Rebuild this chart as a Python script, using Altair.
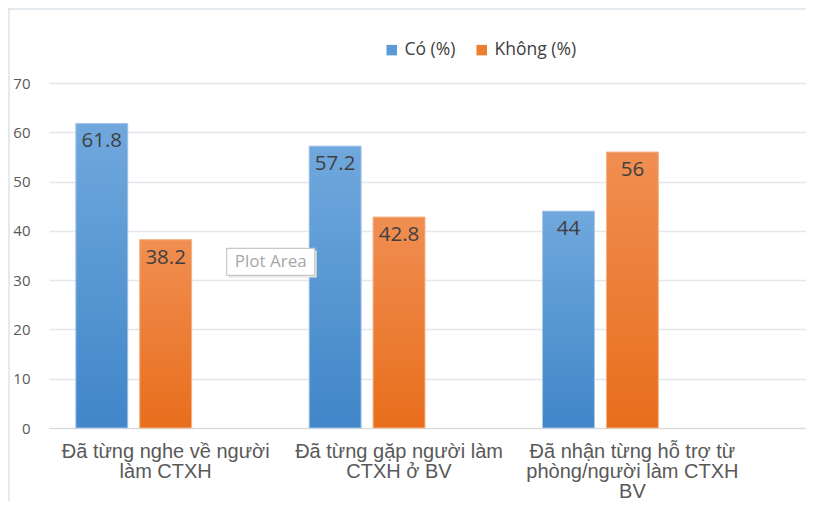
import altair as alt
import pandas as pd

categories = [
    "Đã từng nghe về người|làm CTXH",
    "Đã từng gặp người làm|CTXH ở BV",
    "Đã nhận từng hỗ trợ từ|phòng/người làm CTXH|BV",
]
series = ["Có (%)", "Không (%)"]
co_values = [61.8, 57.2, 44]
khong_values = [38.2, 42.8, 56]
y_ticks = [0, 10, 20, 30, 40, 50, 60, 70]

rows = []
for c, v in zip(categories, co_values):
    rows.append({"cat": c, "series": series[0], "value": v})
for c, v in zip(categories, khong_values):
    rows.append({"cat": c, "series": series[1], "value": v})
df = pd.DataFrame(rows)

offset_domain = series + ["_"]

x_scale = alt.Scale(domain=categories, paddingInner=0, paddingOuter=0.122, align=0)
x_enc = alt.X(
    "cat:N",
    sort=categories,
    scale=x_scale,
    axis=alt.Axis(
        title=None,
        labelAngle=0,
        labelExpr="split(datum.label, '|')",
        labelFont="Liberation Sans",
        labelFontSize=20,
        labelColor="#595959",
        labelLineHeight=20,
        labelPadding=23,
        labelLimit=0,
        ticks=False,
        domain=True,
        domainColor="#d9d9d9",
        labelBaseline="middle",
    ),
)
xoff = alt.XOffset(
    "series:N",
    scale=alt.Scale(domain=offset_domain, paddingInner=0.1875, paddingOuter=0.42),
)
y_enc = alt.Y(
    "value:Q",
    scale=alt.Scale(domain=[0, 70], nice=False),
    axis=alt.Axis(
        title=None,
        values=y_ticks,
        labelFont="Open Sans",
        labelFontSize=15,
        labelColor="#595959",
        labelPadding=19,
        ticks=False,
        domain=False,
        grid=True,
        gridColor="#e3e6ec",
        gridWidth=1.3,
    ),
)

base = alt.Chart(df)

legend_bars = base.mark_bar().encode(
    x=x_enc,
    xOffset=xoff,
    y=y_enc,
    color=alt.Color(
        "series:N",
        scale=alt.Scale(domain=series, range=["#5b9bd5", "#ed7d31"]),
        legend=alt.Legend(
            title=None,
            orient="none",
            legendX=334,
            legendY=-42,
            direction="horizontal",
            symbolType="square",
            symbolSize=110,
            symbolStrokeWidth=0,
            labelFont="Open Sans",
            labelFontSize=17.5,
            labelColor="#404040",
            columnPadding=17,
            labelOffset=4,
        ),
    ),
)

def grad(top, bottom):
    return alt.Gradient(
        gradient="linear",
        stops=[alt.GradientStop(offset=0, color=top), alt.GradientStop(offset=1, color=bottom)],
        x1=0, x2=0, y1=0, y2=1,
    )

blue_bars = base.transform_filter(alt.datum.series == series[0]).mark_bar(
    color=grad("#70a8dd", "#4086c8"), stroke="#a9c9ea", strokeWidth=1
).encode(x=x_enc, xOffset=xoff, y=y_enc)

orange_bars = base.transform_filter(alt.datum.series == series[1]).mark_bar(
    color=grad("#f08e52", "#e86e1c"), stroke="#f5b68a", strokeWidth=1
).encode(x=x_enc, xOffset=xoff, y=y_enc)

labels = base.mark_text(
    baseline="top", dy=8, font="Open Sans", fontSize=20.5, color="#404040"
).encode(x=x_enc, xOffset=xoff, y=y_enc, text=alt.Text("value:Q"))

# "Plot Area" hover tag seen in the source screenshot
annot = pd.DataFrame({"cat": [categories[0]], "value": [33.7], "txt": ["Plot Area"]})
x_plain = alt.X("cat:N", sort=categories, scale=x_scale)
annot_shadow = alt.Chart(annot).mark_rect(
    fill="#e6e6e6", width=88, height=27, xOffset=107, yOffset=2
).encode(x=x_plain, y=y_enc)
annot_box = alt.Chart(annot).mark_rect(
    fill="white", stroke="#c8c8c8", strokeWidth=1.2, width=88, height=27, xOffset=105
).encode(x=x_plain, y=y_enc)
annot_text = alt.Chart(annot).mark_text(
    font="Open Sans", fontSize=17, color="#a6a6a6", xOffset=105
).encode(x=x_plain, y=y_enc, text="txt:N")

# light chart-area frame (top and left edges)
frame_top = alt.Chart(annot).mark_rule(color="#dde3ea", strokeWidth=1.5).encode(
    x=alt.value(-41), x2=alt.value(770), y=alt.value(-74)
)
frame_left = alt.Chart(annot).mark_rule(color="#dde3ea", strokeWidth=1.5).encode(
    x=alt.value(-40), y=alt.value(-75), y2=alt.value(440)
)

chart = alt.layer(
    frame_top, frame_left, legend_bars, blue_bars, orange_bars, labels,
    annot_shadow, annot_box, annot_text
).properties(
    width=757,
    height=345,
    autosize=alt.AutoSizeParams(type="none"),
    padding={"left": 41, "top": 75, "right": 0, "bottom": 73},
).configure_view(stroke=None)

chart.save("out.html", embed_options={"renderer": "svg", "actions": False})
